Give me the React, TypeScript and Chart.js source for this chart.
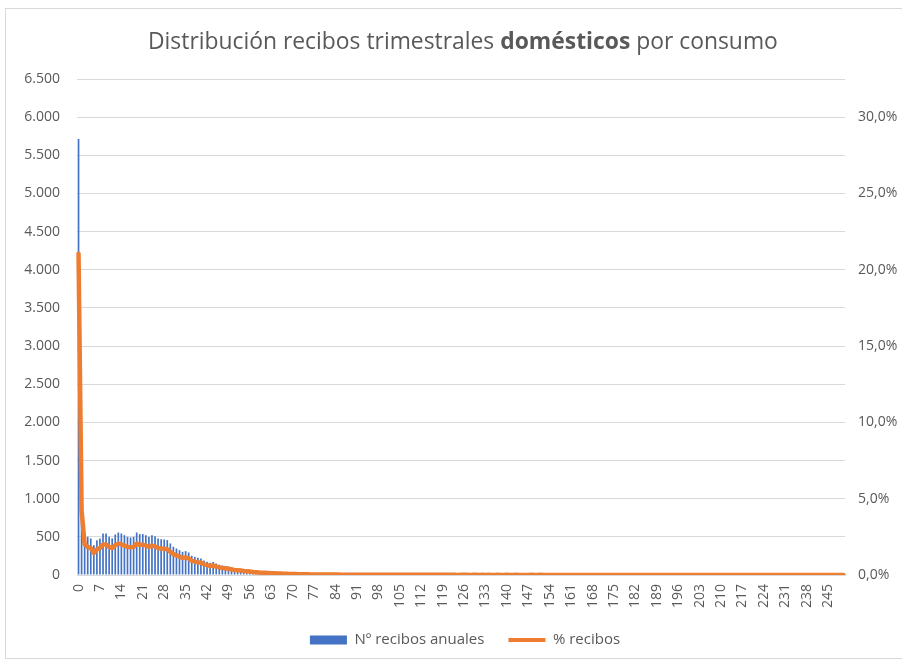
import React, { useEffect, useRef } from "react";
import { Chart, registerables } from "chart.js";

Chart.register(...registerables);

// Consumption categories 0..250
const categories: string[] = Array.from({ length: 251 }, (_, i) => String(i));

// Nº recibos anuales per consumption value
const counts: number[] = [
  5714, 1150,
  544, 500, 479, 391, 457, 479, 544, 544, 500, 479,
  531, 557, 544, 522, 500, 492, 500, 557, 536, 536,
  522, 500, 522, 509, 479, 470, 466, 457, 413, 370,
  348, 326, 304, 313, 295, 252, 238, 225, 217,
  190, 175, 160, 170, 150, 135, 125, 120, 110, 100,
  90, 85, 80, 72, 68, 62, 55, 50, 45, 42,
  38, 35, 32, 30, 27, 25, 23, 21, 20, 18,
  16, 15, 14, 13, 12, 11, 10, 10, 9, 9,
  8, 8, 7, 7, 7, 6, 6, 6, 6, 5,
  5, 5, 5, 5, 4, 5, 4, 4, 4, 4,
  4, 4, 4, 4, 3, 4, 3, 4, 3, 3,
  4, 3, 3, 3, 3, 3, 4, 3, 3, 3,
  3, 3, 3, 2, 3, 3, 3, 2, 3, 3,
  2, 3, 2, 3, 2, 2, 3, 2, 2, 3,
  2, 2, 3, 2, 2, 2, 2, 3, 2, 2,
  3, 2, 2, 2, 2, 2, 2, 2, 2, 2,
  2, 2, 2, 1, 2, 2, 2, 2, 1, 2,
  2, 1, 2, 2, 1, 2, 2, 1, 2, 2,
  1, 2, 1, 2, 1, 2, 1, 1, 2, 1,
  1, 1, 2, 1, 1, 1, 2, 1, 1, 1,
  1, 1, 1, 2, 1, 1, 1, 1, 1, 1,
  1, 1, 1, 1, 2, 1, 1, 1, 1, 1,
  1, 1, 1, 1, 1, 1, 1, 1, 1, 1,
  1, 1, 1, 0, 1, 1, 1, 1, 1, 1,
  1, 1, 1, 1, 1, 1, 0, 1, 1, 1,
];

const total = counts.reduce((a, b) => a + b, 0);
// % recibos = share of each category over all receipts
const percents: number[] = counts.map((c) => (c / total) * 100);

const titleParts = [
  { text: "Distribución recibos trimestrales ", bold: false },
  { text: "domésticos", bold: true },
  { text: " por consumo", bold: false },
];

const seriesNames = ["Nº recibos anuales", "% recibos"];

const FONT = "'Open Sans', 'DejaVu Sans', sans-serif";
const GRAY = "#595959";
const BLUE = "#4472C4";
const ORANGE = "#ED7D31";
const GRID = "#D9D9D9";
const TICK_SIZE = 14;

const fmtThousands = (v: number) =>
  String(Math.round(v)).replace(/\B(?=(\d{3})+(?!\d))/g, ".");

const richTitle = {
  id: "richTitle",
  afterLayout(chart: any) {
    // nudge the legend to the same horizontal position as the reference
    if (chart.legend) {
      chart.legend.left += 14;
      chart.legend.right += 14;
    }
  },
  afterDraw(chart: any) {
    const ctx = chart.ctx as CanvasRenderingContext2D;
    ctx.save();
    const f = (bold: boolean, s: number) => `${bold ? "bold " : ""}${s}px ${FONT}`;
    const base = 20;
    let w = 0;
    for (const p of titleParts) {
      ctx.font = f(p.bold, base);
      w += ctx.measureText(p.text).width;
    }
    const targetW = 630;
    const size = (base * targetW) / w;
    let x = 463 - targetW / 2;
    ctx.textBaseline = "middle";
    ctx.fillStyle = GRAY;
    for (const p of titleParts) {
      ctx.font = f(p.bold, size);
      ctx.fillText(p.text, x, 42);
      x += ctx.measureText(p.text).width;
    }
    ctx.restore();
  },
};

export default function App() {
  const ref = useRef<HTMLCanvasElement | null>(null);

  useEffect(() => {
    if (!ref.current) return;
    const chart = new Chart(ref.current, {
      type: "bar",
      data: {
        labels: categories,
        datasets: [
          {
            type: "bar",
            label: seriesNames[0],
            data: counts,
            backgroundColor: BLUE,
            borderWidth: 0,
            barPercentage: 0.55,
            categoryPercentage: 1,
            yAxisID: "y",
            order: 2,
          } as any,
          {
            type: "line",
            label: seriesNames[1],
            data: percents,
            borderColor: ORANGE,
            backgroundColor: ORANGE,
            borderWidth: 4.5,
            borderJoinStyle: "round",
            borderCapStyle: "round",
            pointRadius: 0,
            tension: 0,
            yAxisID: "y1",
            order: 1,
          } as any,
        ],
      },
      options: {
        responsive: false,
        animation: false,
        layout: { padding: { top: 79, bottom: 2.5, left: 0, right: 0 } },
        scales: {
          x: {
            offset: true,
            grid: { display: false, drawTicks: false },
            border: { display: true, color: GRID },
            ticks: {
              autoSkip: false,
              minRotation: 90,
              maxRotation: 90,
              padding: 9,
              color: GRAY,
              font: { family: FONT, size: TICK_SIZE },
              callback: (_v: any, i: number) => (i % 7 === 0 ? categories[i] : ""),
            },
            afterFit: (s: any) => {
              s.height = 33.5;
            },
          },
          y: {
            position: "left",
            min: 0,
            max: 6500,
            grid: { color: GRID, drawTicks: false },
            border: { display: false },
            ticks: {
              stepSize: 500,
              padding: 17,
              color: GRAY,
              font: { family: FONT, size: TICK_SIZE },
              callback: (v: any) => fmtThousands(Number(v)),
            },
            afterFit: (s: any) => {
              s.width = 77;
            },
          },
          y1: {
            position: "right",
            min: 0,
            max: 32.5,
            grid: { display: false, drawTicks: false },
            border: { display: false },
            ticks: {
              stepSize: 5,
              padding: 13,
              color: GRAY,
              font: { family: FONT, size: TICK_SIZE },
              callback: (v: any) =>
                Number(v) > 30.01 ? "" : Number(v).toFixed(1).replace(".", ",") + "%",
            },
            afterFit: (s: any) => {
              s.width = 57;
            },
          },
        },
        plugins: {
          title: { display: false },
          tooltip: { enabled: false },
          legend: {
            position: "bottom",
            labels: {
              usePointStyle: true,
              pointStyleWidth: 37,
              boxHeight: 9,
              padding: 24,
              color: GRAY,
              font: { family: FONT, size: 15 },
              generateLabels: () => [
                {
                  text: seriesNames[0],
                  fillStyle: BLUE,
                  strokeStyle: BLUE,
                  lineWidth: 0,
                  pointStyle: "rect",
                  datasetIndex: 0,
                  hidden: false,
                  fontColor: GRAY,
                } as any,
                {
                  text: seriesNames[1],
                  fillStyle: ORANGE,
                  strokeStyle: ORANGE,
                  lineWidth: 4,
                  pointStyle: "line",
                  datasetIndex: 1,
                  hidden: false,
                  fontColor: GRAY,
                } as any,
              ],
            },
          },
        },
      } as any,
      plugins: [richTitle],
    });
    return () => chart.destroy();
  }, []);

  return (
    <div style={{ position: "absolute", left: 0, top: 0, width: 902, height: 660, overflow: "hidden" }}>
      <canvas ref={ref} width={902} height={660} style={{ width: 902, height: 660, display: "block" }} />
      <div
        style={{
          position: "absolute",
          left: 5,
          top: 8,
          width: 897,
          height: 651,
          borderTop: `1px solid ${GRID}`,
          borderLeft: `1px solid ${GRID}`,
          borderBottom: `1px solid ${GRID}`,
          boxSizing: "border-box",
          pointerEvents: "none",
        }}
      />
    </div>
  );
}
